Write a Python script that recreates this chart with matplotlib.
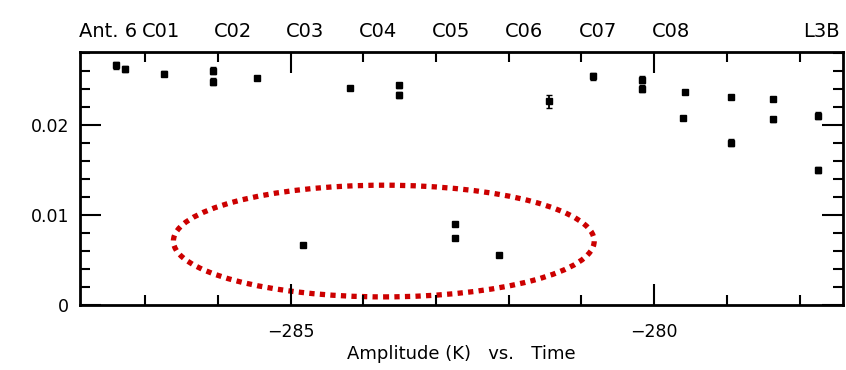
import matplotlib

matplotlib.use("Agg")
import matplotlib.pyplot as plt
from matplotlib.patches import Ellipse
from matplotlib.ticker import MultipleLocator

# time (offset) and amplitude (K)
times = [-287.40, -287.28, -286.74, -286.07, -286.07, -285.47, -284.19, -283.51, -283.51,
         -281.45, -280.84, -280.17, -280.17, -279.57, -279.60, -278.94, -278.94,
         -278.36, -278.36, -277.75, -277.75, -284.83, -282.74, -282.74, -282.13]
amps = [0.0266, 0.0262, 0.0257, 0.0260, 0.0248, 0.0252, 0.0241, 0.0244, 0.0233,
        0.0226, 0.0254, 0.0250, 0.0240, 0.0236, 0.0208, 0.0231, 0.0180,
        0.0229, 0.0206, 0.0210, 0.0150, 0.0067, 0.0090, 0.0074, 0.0056]
errs = [0.0004, 0.0003, 0.0003, 0.0004, 0.0004, 0.0002, 0.0002, 0.0003, 0.0003,
        0.0007, 0.0004, 0.0004, 0.0004, 0.0002, 0.0002, 0.0002, 0.0004,
        0.0002, 0.0003, 0.0004, 0.0003, 0.0002, 0.0002, 0.0002, 0.0002]

top_labels = ["Ant. 6", "C01", "C02", "C03", "C04", "C05", "C06", "C07", "C08", "L3B"]
top_label_x = [-287.52, -286.79, -285.80, -284.81, -283.80, -282.80, -281.79, -280.77, -279.77, -277.70]

# flagged outliers (ellipse centre / size in data units)
ell_center = (-283.72, 0.0071)
ell_size = (5.79, 0.0124)

fig = plt.figure(figsize=(8.46, 3.70), dpi=100)
ax = fig.add_axes([0.0946, 0.1757, 0.902, 0.684])

ax.errorbar(times, amps, yerr=errs, fmt="s", ms=4.5, color="black",
            ecolor="black", elinewidth=1.3, capsize=2.5)

ax.add_patch(Ellipse(ell_center, ell_size[0], ell_size[1], fill=False,
                     edgecolor="#cc0000", lw=3.8, ls=(0, (1, 1.0))))

ax.set_xlim(-287.9, -277.4)
ax.set_ylim(0, 0.0281)
ax.xaxis.set_major_locator(MultipleLocator(5))
ax.xaxis.set_minor_locator(MultipleLocator(1))
ax.yaxis.set_major_locator(MultipleLocator(0.01))
ax.yaxis.set_minor_locator(MultipleLocator(0.002))
ax.set_yticks([0, 0.01, 0.02])
ax.set_yticklabels(["0", "0.01", "0.02"])
ax.set_xticks([-285, -280])
ax.set_xticklabels(["\u2212285", "\u2212280"])

ax.tick_params(which="both", direction="in", top=True, right=True,
               width=1.5, labelsize=12.5)
ax.tick_params(which="major", length=15, pad=8)
ax.tick_params(axis="x", which="major", pad=13)
ax.tick_params(which="minor", length=7)
for s in ax.spines.values():
    s.set_linewidth(2)

ax.set_xlabel("Amplitude (K)   vs.   Time", fontsize=13, labelpad=3)

for lab, x in zip(top_labels, top_label_x):
    ax.text(x, 1.045, lab, transform=ax.get_xaxis_transform(), ha="center",
            va="bottom", fontsize=14)

fig.savefig("out.png", dpi=100)
